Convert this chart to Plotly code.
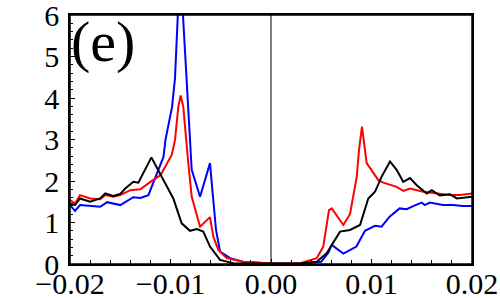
import plotly.graph_objects as go

# Blue curve
blue_x = [-0.0200, -0.0195, -0.0190, -0.0170, -0.0163, -0.0150, -0.0137, -0.0130, -0.0122,
          -0.0113, -0.0107, -0.0105, -0.00985, -0.00955, -0.00925, -0.0090, -0.00876, -0.00839,
          -0.00806, -0.00789, -0.00706, -0.00607, -0.00577, -0.00547, -0.00507, -0.00408,
          -0.00279, 0.0,
          0.0029, 0.0044, 0.0050, 0.0057, 0.00604, 0.0072, 0.0085, 0.00935, 0.01035, 0.0110,
          0.0118, 0.0128, 0.0135, 0.0142, 0.0150, 0.0153, 0.0158, 0.0171, 0.0181, 0.0191, 0.0200]
blue_y = [1.42, 1.28, 1.42, 1.38, 1.49, 1.42, 1.61, 1.59, 1.66,
          2.19, 2.58, 2.99, 3.78, 4.48, 6.0, 7.5, 6.0, 4.43,
          3.06, 2.27, 1.62, 2.43, 1.61, 0.82, 0.30, 0.14,
          0.055, 0.01,
          0.01, 0.05, 0.055, 0.27, 0.46, 0.25, 0.42, 0.80, 0.92, 0.90,
          1.14, 1.34, 1.32, 1.40, 1.48, 1.42, 1.48, 1.42, 1.42, 1.40, 1.40]

# Red curve
red_x = [-0.0200, -0.0195, -0.0190, -0.0180, -0.0170, -0.0165, -0.0157, -0.0150, -0.0140,
         -0.0130, -0.0120, -0.0110, -0.00988, -0.00955, -0.00922, -0.00899, -0.00873, -0.00846,
         -0.00823, -0.00789, -0.00706, -0.00607, -0.00574, -0.00524, -0.00441, -0.00276, 0.0,
         0.0029, 0.00455, 0.0052, 0.00577, 0.00604, 0.0072, 0.00786, 0.00853, 0.00876, 0.00905,
         0.00952, 0.0100, 0.01068, 0.01117, 0.0125, 0.01316, 0.01383, 0.01515, 0.0165, 0.0178,
         0.0188, 0.0200]
red_y = [1.54, 1.46, 1.66, 1.58, 1.56, 1.66, 1.62, 1.66, 1.78,
         1.80, 1.98, 2.14, 2.63, 2.99, 3.79, 4.06, 3.79, 2.99,
         2.43, 1.62, 0.90, 1.13, 0.66, 0.34, 0.14, 0.055, 0.01,
         0.02, 0.14, 0.42, 1.30, 1.34, 0.94, 1.20, 2.10, 2.75, 3.31,
         2.43, 2.27, 2.02, 1.96, 1.86, 1.76, 1.82, 1.74, 1.70, 1.66,
         1.66, 1.70]

# Black curve
black_x = [-0.0200, -0.0195, -0.0190, -0.0180, -0.0170, -0.0165, -0.0157, -0.0150, -0.0145,
           -0.0137, -0.0132, -0.0125, -0.0119, -0.0114, -0.0107, -0.00972, -0.00889, -0.00806,
           -0.00739, -0.00674, -0.00607, -0.00507, -0.00378, 0.0,
           0.0029, 0.00455, 0.00554, 0.00687, 0.00786, 0.00886, 0.00968, 0.01035, 0.0110,
           0.01184, 0.0125, 0.01316, 0.01383, 0.0145, 0.0155, 0.0160, 0.0168, 0.0178, 0.0185, 0.0200]
black_y = [1.46, 1.42, 1.58, 1.50, 1.58, 1.70, 1.64, 1.69, 1.82,
           1.98, 1.96, 2.31, 2.57, 2.34, 2.02, 1.58, 0.98, 0.80,
           0.84, 0.78, 0.42, 0.10, 0.02, 0.005,
           0.01, 0.055, 0.26, 0.78, 0.82, 0.94, 1.58, 1.74, 2.10,
           2.47, 2.27, 1.98, 2.07, 1.90, 1.70, 1.78, 1.65, 1.68, 1.58, 1.62]

x_ticks = [-0.02, -0.01, 0.0, 0.01, 0.02]
x_tick_labels = ["\u22120.02", "\u22120.01", "0.00", "0.01", "0.02"]
y_ticks = [0, 1, 2, 3, 4, 5, 6]
panel_label = "(e)"

fig = go.Figure()
for xs, ys, col in [(blue_x, blue_y, "#0000ff"), (red_x, red_y, "#ff0000"), (black_x, black_y, "#000000")]:
    fig.add_trace(go.Scatter(x=xs, y=ys, mode="lines", line=dict(color=col, width=2), showlegend=False))

fig.add_shape(type="line", x0=0, x1=0, y0=0, y1=1, xref="x", yref="paper",
              line=dict(color="black", width=1))
fig.add_shape(type="rect", x0=0, x1=1, y0=0, y1=1, xref="paper", yref="paper",
              line=dict(color="black", width=1.5), layer="above")

serif = "Liberation Serif"
font = dict(family=serif, size=30, color="black")
fig.update_layout(
    width=500, height=298,
    margin=dict(l=70, r=28, t=15, b=34, autoexpand=False),
    paper_bgcolor="white", plot_bgcolor="white",
    font=font,
    xaxis=dict(range=[-0.02, 0.02], tickvals=x_ticks, ticktext=x_tick_labels,
               ticks="inside", ticklen=5, tickwidth=1, tickcolor="black",
               minor=dict(dtick=0.002, ticks="inside", ticklen=4, tickcolor="black"),
               showline=True, linecolor="black", linewidth=1.5, mirror=True,
               showgrid=False, zeroline=False, tickfont=font, automargin=False,
               ticklabelstandoff=-8, ticklabeloverflow="allow"),
    yaxis=dict(range=[0, 6], tickvals=y_ticks,
               ticks="inside", ticklen=5, tickwidth=1, tickcolor="black",
               minor=dict(dtick=0.2, ticks="inside", ticklen=3, tickcolor="black"),
               showline=True, linecolor="black", linewidth=1.5, mirror=True,
               showgrid=False, zeroline=False, tickfont=font, ticklabelstandoff=3,
               automargin=False, ticklabeloverflow="allow"),
    annotations=[dict(text=panel_label, x=0.0, y=1.0, xref="paper", yref="paper",
                      xanchor="left", yanchor="top", showarrow=False, xshift=-1, yshift=8,
                      font=dict(family=serif, size=58, color="black"))],
)

fig.write_html("out.html", config={"displayModeBar": False},
               post_script="document.body.style.margin='0';document.body.style.overflow='hidden';")
